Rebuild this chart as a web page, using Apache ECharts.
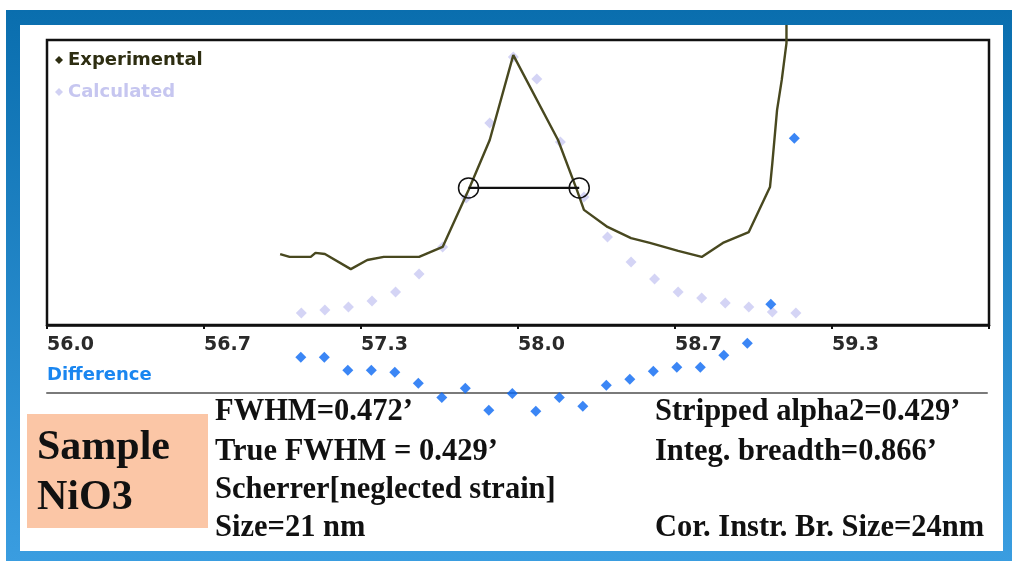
<!DOCTYPE html>
<html>
<head>
<meta charset="utf-8">
<script src="https://cdn.jsdelivr.net/npm/echarts@6/dist/echarts.min.js"></script>
<style>
  html, body { margin: 0; padding: 0; background: #fff; }
  #chart { width: 1014px; height: 561px; }
</style>
</head>
<body>
<div id="chart"></div>
<script>
// 2-theta tick labels (axis runs 56..60 in steps of 2/3)
const tickLabels = ["56.0", "56.7", "57.3", "58.0", "58.7", "59.3"];

// calculated profile + difference, sampled every 0.1 deg
const calcTheta = [57.08, 57.18, 57.28, 57.38, 57.48, 57.58, 57.68, 57.78, 57.88, 57.98, 58.08,
  58.18, 58.28, 58.38, 58.48, 58.58, 58.68, 58.78, 58.88, 58.98, 59.08, 59.18];
const calculated = [4.2, 5.3, 6.3, 8.4, 11.6, 17.9, 27.4, 44.6, 70.9, 94.0, 86.3,
  64.2, 44.9, 30.9, 22.1, 16.1, 11.6, 9.5, 7.7, 6.3, 4.6, 4.2];
const difference = [12.3, 12.3, 7.7, 7.7, 7.0, 3.2, -1.8, 1.4, -6.3, -0.4, -6.7,
  -1.8, -4.9, 2.5, 4.6, 7.4, 8.8, 8.8, 13.0, 17.2, 30.9, 89.1];

// experimental trace
const expTheta = [56.99, 57.03, 57.12, 57.14, 57.18, 57.29, 57.36, 57.43, 57.58, 57.68, 57.79,
  57.88, 57.98, 58.17, 58.25, 58.28, 58.38, 58.48, 58.56, 58.68, 58.78, 58.87, 58.98,
  59.07, 59.08, 59.10, 59.12, 59.14, 59.14];
const experimental = [24.9, 23.9, 23.9, 25.3, 24.9, 19.6, 22.8, 23.9, 23.9, 27.4, 47.4,
  64.9, 94.7, 64.9, 47.4, 40.4, 34.4, 30.5, 28.8, 26.0, 23.9, 28.8, 32.6,
  48.4, 56.8, 75.4, 86.0, 98.9, 105.3];

// half-maximum bar
const fwhmTheta = [57.79, 58.26];
const fwhmLevel = 48.1;

const leftLines = ["FWHM=0.472\u2019", "True FWHM = 0.429\u2019", "Scherrer[neglected strain]", "Size=21 nm"];
const rightLines = ["Stripped alpha2=0.429\u2019", "Integ. breadth=0.866\u2019", "", "Cor. Instr. Br. Size=24nm"];
const sampleLines = ["Sample", "NiO3"];

const lineY = [412, 452, 490, 528];
const serif = "bold 30.5px 'Liberation Serif', 'Times New Roman', serif";

const graphics = [
  {
    type: "rect", z: -100, silent: true,
    shape: { x: 6, y: 10, width: 1006, height: 551 },
    style: {
      fill: new echarts.graphic.LinearGradient(0, 0, 0, 1, [
        { offset: 0, color: "#0a6eae" },
        { offset: 1, color: "#3a9de0" },
      ]),
    },
  },
  { type: "rect", z: -99, silent: true, shape: { x: 20, y: 25, width: 983, height: 526 }, style: { fill: "#ffffff" } },
  { type: "rect", z: -98, silent: true, shape: { x: 27, y: 414, width: 181, height: 114 }, style: { fill: "#fbc6a6" } },
  {
    type: "text", x: 47, y: 375,
    style: { text: "Difference", font: "bold 18px 'DejaVu Sans', sans-serif", fill: "#1a86f0", verticalAlign: "middle" },
  },
];
sampleLines.forEach((t, i) => {
  graphics.push({
    type: "text", x: 37, y: 448 + i * 50,
    style: { text: t, font: "bold 42px 'Liberation Serif', 'Times New Roman', serif", fill: "#111", verticalAlign: "middle" },
  });
});
leftLines.forEach((t, i) => {
  graphics.push({ type: "text", x: 215, y: lineY[i], style: { text: t, font: serif, fill: "#111", verticalAlign: "middle" } });
});
rightLines.forEach((t, i) => {
  if (t) {
    graphics.push({ type: "text", x: 655, y: lineY[i], style: { text: t, font: serif, fill: "#111", verticalAlign: "middle" } });
  }
});

const chart = echarts.init(document.getElementById("chart"));
chart.setOption({
  animation: false,
  textStyle: { fontFamily: "DejaVu Sans" },
  graphic: graphics,
  legend: {
    orient: "vertical",
    left: 50,
    top: 46,
    icon: "diamond",
    itemWidth: 8,
    itemHeight: 8,
    itemGap: 14,
    textStyle: { fontSize: 18, fontWeight: "bold", fontFamily: "DejaVu Sans" },
    data: [
      { name: "Experimental", textStyle: { color: "#2e2e12" }, itemStyle: { color: "#2e2e12" } },
      { name: "Calculated", textStyle: { color: "#c6c6f0" }, itemStyle: { color: "#c6c6f0" } },
    ],
  },
  grid: [
    {
      left: 47, right: 25, top: 40, height: 285, outerBoundsMode: "none",
      show: true, borderColor: "#111", borderWidth: 2.5, backgroundColor: "transparent",
    },
    { left: 47, right: 27, top: 349.5, height: 85.5, outerBoundsMode: "none" },
  ],
  xAxis: [
    {
      gridIndex: 0, type: "value", min: 56, max: 60, interval: 2 / 3,
      axisLine: { lineStyle: { color: "#111", width: 2.5 } },
      axisTick: { show: true, length: 4, lineStyle: { color: "#111", width: 2 } },
      splitLine: { show: false },
      axisLabel: {
        align: "left", margin: 11,
        color: "#2a2a2a", fontSize: 19, fontWeight: "bold", fontFamily: "DejaVu Sans",
        formatter: (v, i) => tickLabels[i] ?? "",
      },
    },
    {
      gridIndex: 1, type: "value", min: 56, max: 60,
      axisLine: { onZero: true, lineStyle: { color: "#7a7a7a", width: 2 } },
      axisTick: { show: false }, axisLabel: { show: false }, splitLine: { show: false },
    },
  ],
  yAxis: [
    { gridIndex: 0, type: "value", min: 0, max: 100, show: false, splitLine: { show: false } },
    { gridIndex: 1, type: "value", min: -15, max: 15, show: false, splitLine: { show: false } },
  ],
  series: [
    {
      name: "Calculated", type: "scatter", xAxisIndex: 0, yAxisIndex: 0,
      symbol: "diamond", symbolSize: 11, itemStyle: { color: "#c9c9f3" }, z: 2,
      data: calcTheta.map((t, i) => [t, calculated[i]]),
    },
    {
      name: "Experimental", type: "line", xAxisIndex: 0, yAxisIndex: 0,
      showSymbol: false, clip: false, z: 3,
      lineStyle: { color: "#48481f", width: 2.4 }, itemStyle: { color: "#48481f" },
      data: expTheta.map((t, i) => [t, experimental[i]]),
    },
    {
      name: "FWHM", type: "line", xAxisIndex: 0, yAxisIndex: 0, z: 4,
      symbol: "circle", symbolSize: 20, showSymbol: true,
      lineStyle: { color: "#111", width: 2.2 },
      itemStyle: { color: "transparent", borderColor: "#111", borderWidth: 1.5 },
      data: fwhmTheta.map((t) => [t, fwhmLevel]),
    },
    {
      name: "Difference", type: "scatter", xAxisIndex: 1, yAxisIndex: 1, clip: false, z: 5,
      symbol: "diamond", symbolSize: 11, itemStyle: { color: "#0a68f2" },
      data: calcTheta.map((t, i) => [t, difference[i]]),
    },
  ],
});
</script>
</body>
</html>
